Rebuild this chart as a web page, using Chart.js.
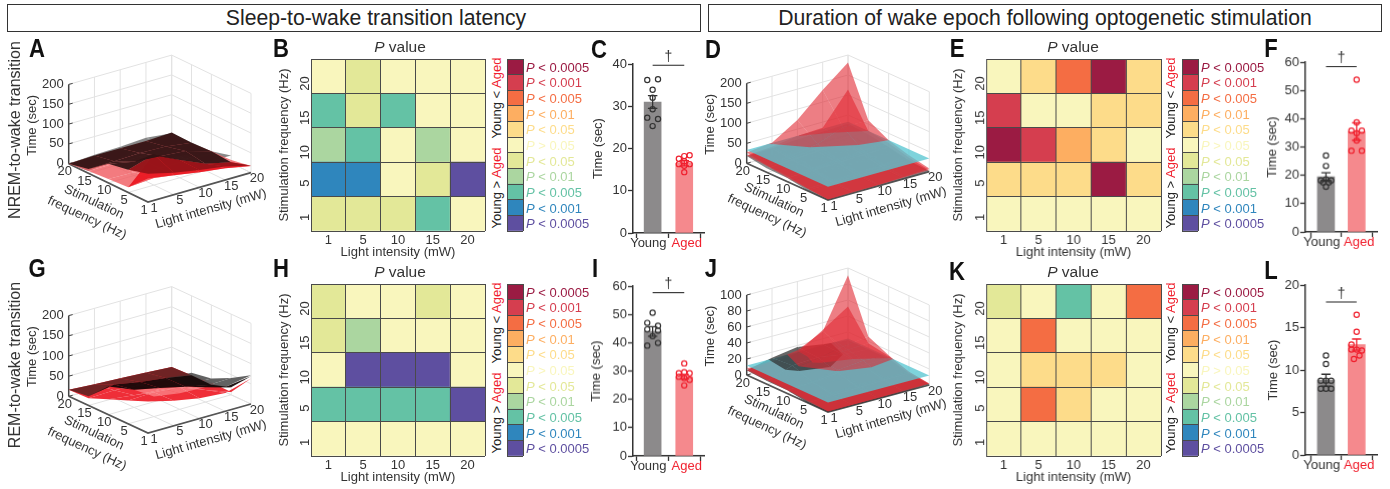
<!DOCTYPE html>
<html><head><meta charset="utf-8">
<script src="https://cdn.jsdelivr.net/npm/chart.js@4/dist/chart.umd.min.js"></script>
<style>
html,body{margin:0;padding:0;background:#fff;width:1390px;height:489px;overflow:hidden;font-family:"Liberation Sans",Arial,sans-serif;color:#333}
canvas{position:absolute;display:block}
.hdr{position:absolute;border:1px solid #333;box-sizing:border-box;text-align:center;font-size:21.2px;line-height:25px;color:#222;top:4px;height:28px}
.let{position:absolute;z-index:6;font-family:"Liberation Sans",sans-serif;font-weight:700;font-size:26px;color:#111;transform:translate(-50%,-50%) scaleX(.85);line-height:1}
.rot{position:absolute;z-index:5;transform:translate(-50%,-50%) rotate(-90deg);white-space:nowrap;font-size:13px;color:#222}
.rl{position:absolute;z-index:5;transform:translate(-50%,-50%) rotate(-90deg);white-space:nowrap;font-size:16px;color:#333}
.red{color:#f0202e}
.lg{position:absolute;z-index:5;font-size:13px;white-space:nowrap;transform:translateY(-50%)}
.pv{position:absolute;z-index:5;font-size:15.5px;transform:translate(-50%,-50%);white-space:nowrap}
</style></head><body>
<script>
// ---------- data ----------
const lightLabels = ['1','5','10','15','20'];
const freqLabels = ['1','5','10','15','20'];
const groupLabels = ['Young','Aged'];
const legendLabels = ['< 0.0005','< 0.001','< 0.005','< 0.01','< 0.05','> 0.05','< 0.05','< 0.01','< 0.005','< 0.001','< 0.0005'];
// significance codes, rows from 20 Hz down to 1 Hz; + : Young < Aged, - : Young > Aged
const pB = [[0,-1,0,0,0],[-3,-1,-3,0,0],[-2,-3,0,-2,0],[-4,-4,0,-1,-5],[-1,-1,-1,-3,0]];
const pE = [[0,1,3,5,1],[4,0,0,1,1],[5,4,2,1,0],[1,1,1,5,1],[0,0,0,0,0]];
const pH = [[-1,0,0,-1,0],[-1,-2,0,0,0],[0,-5,-5,-5,0],[-3,-3,-3,-3,-5],[0,0,0,0,0]];
const pK = [[-1,0,-3,0,3],[0,3,0,0,0],[0,1,1,1,0],[0,3,1,0,0],[0,0,0,0,0]];
const legendCodes = [5,4,3,2,1,0,-1,-2,-3,-4,-5];
const palette = {'5':'#9b1b43','4':'#d53e4f','3':'#f46d43','2':'#fdae61','1':'#fddc8a','0':'#f9f6bd','-1':'#e3e898','-2':'#abd6a0','-3':'#64c2a5','-4':'#2f86bd','-5':'#5e4fa0'};
// bars
const meanC=[31,16.5], semC=[1.5,0.6];
const youngC=[36.2,36.4,33.9,32,29.3,27.3,27,25.3], agedC=[18.4,18.2,17.6,17,16.3,16.3,15.9,14.4];
const meanF=[19.5,35.5], semF=[1.4,3.1];
const youngF=[27,23.3,18.2,18.2,18.6,17.5,17.5,16], agedF=[53.8,38.7,35.8,35.8,34.9,32.3,28.7,28.7];
const meanI=[44,28], semI=[1.7,0.8];
const youngI=[50.6,47,44.7,46,44.3,42.3,39,39.9], agedI=[32.7,29.2,29.6,29.2,28,27.5,26.9,24.9];
const meanL=[8.8,13], semL=[0.7,0.65];
const youngL=[11.7,10.7,8.75,8.75,8.75,7.8,7.8,7.8], agedL=[16.5,14.5,13,12.4,12.4,12.3,11.7,11.3];
const jitterYoung=[-0.17,0.17,0,0,0,-0.17,0.17,0], jitterAged=[0.17,0,-0.17,0,-0.17,0.17,0,0];
const jitterYoungB=[0,0,-0.17,0.17,0,-0.09,0.09,0], jitterAgedB=[0,0,-0.17,0.17,0,0,-0.17,0.17];
const jitterYoungI=[0,-0.17,-0.17,0.17,0.17,0,-0.17,0.17], jitterAgedI=[0,-0.17,0,0.17,-0.17,0,0.17,0];
const jitterYoungL=[0,0,-0.17,0,0.17,-0.17,0.17,0], jitterAgedL=[0,0,-0.17,-0.17,0,0.17,0.09,-0.09];
// 3-D surfaces, rows from 20 Hz down to 1 Hz, columns 1 to 20 mW, seconds; null: no patch
const aGrey=[[0,4,6,10,3],[6,14,25,19,4],[null,null,20,15,6],[null,null,null,20,19],[null,null,null,null,null]];
const aLight=[[0,1,1,1,3],[6,6,5,5,2],[10,8,6,5,6],[13,18,14,10,8],[59,49,38,30,17]];
const aBright=[[null,null,null,null,null],[null,null,null,null,null],[null,null,null,null,null],[13,77,45,17,2],[59,49,38,30,17]];
const aDeep=[[null,null,null,null,null],[null,null,null,null,null],[null,null,null,null,null],[57,77,45,17,2],[71,55,44,34,18]];
const aDark=[[0,2,2,2,5],[11,12,14,12,3],[48,35,30,25,6],[57,77,45,17,2],[null,null,null,null,null]];
const gGrey=[[null,null,null,null,null],[null,null,null,14,9],[null,null,null,20,18],[null,null,null,40,42],[null,null,null,60,71]];
const gBase=[[16,12,9,5,1],[18,20,15,10,3],[38,30,25,15,8],[58,60,55,30,7],[78,62,50,45,63]];
const gBrown=[[16,12,9,5,1],[23,34,22,14,3],[null,null,null,null,null],[null,null,null,null,null],[null,null,null,null,null]];
const gPink=[[null,null,null,null,null],[null,null,null,null,null],[null,44,30,15,null],[null,50,40,37,null],[null,null,null,null,null]];
const gDark=[[null,null,null,null,null],[23,34,22,14,3],[70,44,30,15,2],[null,null,null,37,19],[null,null,null,60,69]];
const dYoung=[[18,20,24,26,28],[10,14,18,22,24],[9,10,12,14,16],[1,2,3,4,5],[0,1,1,1,2]];
const dMid=[[20,24,33,36,114],[16,20,26,29,33],[10,12,16,20,26],[5,6,8,10,12],[1,2,2,3,4]];
const dTop=[[27,34,73,130,181],[18,26,36,60,60],[14,16,20,24,33],[6,8,10,13,18],[2,3,3,5,8]];
const dPlane=33;
const jYoung=[[6,13,18,13,10],[4,15,17,12,10],[4,6,9,10,10],[0,1,2,3,3],[0,0,0,0,1]];
const jMid=[[6,8,11,31,52],[5,8,13,16,17.5],[4,5,7,8,13],[2,3,4,5,5],[0.5,1,1,1,1.5]];
const jTop=[[8,9,14,29,91],[6,11,15,22,26],[5,7,12.5,16,14],[3,4,6,6,5],[1,1,1,2,2]];
const jPlane=12;
const zTicks200=[0,50,100,150,200], zTicks100=[0,20,40,60,80,100];

// ---------- helpers ----------
Chart.defaults.font.family='"Liberation Sans",Arial,sans-serif';
Chart.defaults.font.size=13;
Chart.defaults.color='#333';
const base=()=>({responsive:false,animation:false,events:[],plugins:{legend:{display:false},tooltip:{enabled:false}}});
function mkCanvas(l,t,w,h){const c=document.createElement('canvas');c.width=w;c.height=h;c.style.left=l+'px';c.style.top=t+'px';c.style.width=w+'px';c.style.height=h+'px';document.body.appendChild(c);return c;}
function html(cls,txt,x,y,extra){const d=document.createElement('div');d.className=cls;d.innerHTML=txt;d.style.left=x+'px';d.style.top=y+'px';if(extra)Object.assign(d.style,extra);document.body.appendChild(d);return d;}

function heatmap(matrix,area,ml){
  const [l,t,r,b]=area, mt=9, mb=29, mr=3;
  const c=mkCanvas(l-ml,t-mt,r-l+ml+mr,b-t+mt+mb);
  const rows=[...matrix].reverse();
  const datasets=rows.map(row=>({data:row.map(()=>1),backgroundColor:row.map(v=>palette[v]),borderWidth:0,stack:'s'}));
  const o=base();
  o.layout={padding:{top:mt,right:mr}};
  o.scales={
    x:{type:'category',labels:lightLabels,stacked:true,offset:true,
       grid:{offset:true,color:'#4a4a4a',lineWidth:1,z:1,drawTicks:false},border:{display:false},
       ticks:{padding:2,color:'#333',maxRotation:0},
       title:{display:true,text:'Light intensity (mW)',padding:0,color:'#333'},afterFit:s=>{s.height=mb;}},
    y:{type:'linear',stacked:true,min:0,max:5,position:'left',ticks:{display:false,stepSize:1},
       grid:{color:'#4a4a4a',lineWidth:1,z:1,drawTicks:false},border:{display:false},afterFit:s=>{s.width=0;}},
    yl:{type:'linear',min:0,max:5,position:'left',grid:{display:false},border:{display:false},
       afterBuildTicks:s=>{s.ticks=freqLabels.map((_,i)=>({value:i+0.5}));},
       ticks:{minRotation:90,maxRotation:90,padding:-2,color:'#333',callback:v=>freqLabels[Math.round(v-0.5)]},
       title:{display:true,text:'Stimulation frequency (Hz)',padding:{left:2,right:0,top:0,bottom:0},color:'#333'},afterFit:s=>{s.width=ml;}}
  };
  o.datasets={bar:{barPercentage:1,categoryPercentage:1}};
  new Chart(c,{type:'bar',data:{labels:lightLabels,datasets},options:o});
}
function colorbar(x0,x1,t,b){
  const c=mkCanvas(x0-1,t-1,x1-x0+2,b-t+2);
  const codes=[...legendCodes].reverse();
  const datasets=codes.map(v=>({data:[1],backgroundColor:palette[v],borderWidth:0,stack:'s'}));
  const o=base();
  o.layout={padding:1};
  o.scales={
    x:{type:'category',labels:[''],stacked:true,offset:true,grid:{offset:true,color:'#4a4a4a',z:1,drawTicks:false},border:{display:false},ticks:{display:false},afterFit:s=>{s.height=0;}},
    y:{type:'linear',stacked:true,min:0,max:11,ticks:{display:false,stepSize:1},grid:{color:'#4a4a4a',z:1,drawTicks:false},border:{display:false},afterFit:s=>{s.width=0;}}
  };
  o.datasets={bar:{barPercentage:1,categoryPercentage:1}};
  new Chart(c,{type:'bar',data:{labels:[''],datasets},options:o});
}
function errPath(x,m,s,d){return [{x:x-d,y:m+s},{x:x+d,y:m+s},{x,y:m+s},{x,y:m-s},{x:x-d,y:m-s},{x:x+d,y:m-s}];}
const daggerPlugin={id:'dagger',afterDraw(ch,_,opts){const g=ch.ctx,xs=ch.scales.x,ys=ch.scales.y;g.save();g.font='14px "Liberation Sans"';g.fillStyle='#333';g.textAlign='center';g.textBaseline='bottom';g.fillText('†',xs.getPixelForValue(1.5),ys.getPixelForValue(opts.y)-1);g.restore();}};
function bars(cfg){
  const {area,ml,yMax,step,xMin,xMax,mean,sem,young,aged,jy,ja,sig}=cfg;
  const [l,t,r,b]=area, mt=20, mb=24, mr=2;
  const c=mkCanvas(l-ml,t-mt,r-l+ml+mr,b-t+mt+mb);
  const R='#f0202e',K='#333';
  const dot=(vals,j,x,col)=>({type:'scatter',data:vals.map((v,i)=>({x:x+j[i],y:v})),showLine:false,pointRadius:2.6,pointBorderWidth:1.2,pointBorderColor:col,pointBackgroundColor:'rgba(0,0,0,0)'});
  const ln=(data,col,w)=>({type:'scatter',data,showLine:true,pointRadius:0,borderColor:col,borderWidth:w,fill:false,tension:0});
  const datasets=[
    ln([{x:1,y:sig},{x:2,y:sig}],'#222',1.2),
    dot(young,jy,1,K),dot(aged,ja,2,R),
    ln(errPath(1,mean[0],sem[0],0.15),K,1.3),ln(errPath(2,mean[1],sem[1],0.15),R,1.3),
    {type:'bar',data:[{x:1,y:mean[0]},{x:2,y:mean[1]}],backgroundColor:['#8c8a8b','#f5898d'],barThickness:17,borderWidth:0}
  ];
  const o=base();
  o.plugins.dagger={y:sig};
  o.layout={padding:{top:mt,right:mr}};
  o.scales={
    x:{type:'linear',min:xMin,max:xMax,offset:false,
       afterBuildTicks:s=>{s.ticks=[{value:1},{value:2}];},
       grid:{drawOnChartArea:false,color:'#333',tickLength:5,tickWidth:1.3},border:{color:'#333',width:1.5},
       ticks:{display:false},afterFit:s=>{s.height=5;}},
    xl:{type:'linear',position:'bottom',min:xMin,max:xMax,offset:false,
       afterBuildTicks:s=>{s.ticks=[{value:0.865},{value:2.08}];},
       grid:{display:false,drawTicks:false},border:{display:false},
       ticks:{padding:-2,maxRotation:0,autoSkip:false,color:ctx=>ctx.index===1?R:'#333',callback:(v,i)=>groupLabels[i]},
       afterFit:s=>{s.height=mb-5;}},
    y:{type:'linear',min:0,max:yMax,ticks:{stepSize:step,padding:1,color:'#333'},
       grid:{drawOnChartArea:false,color:'#333',tickLength:5,tickWidth:1.3},border:{color:'#333',width:1.5},
       title:{display:true,text:'Time (sec)',padding:0,color:'#333'},afterFit:s=>{s.width=ml;}}
  };
  new Chart(c,{type:'bar',data:{datasets},options:o,plugins:[daggerPlugin]});
}
// clip polygon of [i,j,z] at horizontal plane
function clipZ(poly,zc,keepAbove){
  const out=[];
  for(let k=0;k<poly.length;k++){
    const a=poly[k],b=poly[(k+1)%poly.length];
    const ia=keepAbove?a[2]>=zc:a[2]<=zc, ib=keepAbove?b[2]>=zc:b[2]<=zc;
    if(ia)out.push(a);
    if(ia!==ib){const u=(zc-a[2])/(b[2]-a[2]);out.push([a[0]+u*(b[0]-a[0]),a[1]+u*(b[1]-a[1]),zc]);}
  }
  return out;
}
function quads(m){
  const res=[];
  for(let r=0;r<4;r++)for(let i=0;i<4;i++){
    const A=m[r][i],B=m[r][i+1],C=m[r+1][i+1],D=m[r+1][i];
    if(A==null||B==null||C==null||D==null)continue;
    const j0=4-r,j1=3-r;
    res.push([[i,j0,A],[i+1,j0,B],[i+1,j1,C],[i,j1,D]]);
  }
  return res;
}
const textPlugin={id:'txt3d',afterDraw(ch,_,opts){
  const g=ch.ctx,xs=ch.scales.x,ys=ch.scales.y;
  for(const t of opts.items){
    g.save();g.translate(xs.getPixelForValue(t.x),ys.getPixelForValue(t.y));if(t.rot)g.rotate(t.rot*Math.PI/180);
    g.font=(t.size||13)+'px "Liberation Sans"';g.fillStyle='#333';g.textAlign=t.align||'center';g.textBaseline='middle';g.fillText(t.text,0,0);g.restore();
  }
}};
function surface3d(cfg){
  const {F,L,Fr,Z,zMax,zTicks,layers,plane}=cfg;
  const cl=F[0]-135,ct=F[1]-162,w=270,h=200;
  const c=mkCanvas(cl,ct,w,h);
  const P=(i,j,z)=>({x:F[0]-cl+i/4*L[0]+j/4*Fr[0],y:F[1]-ct+i/4*L[1]+j/4*Fr[1]-z/zMax*Z});
  const line=(pts,col,wd)=>({data:pts,showLine:true,pointRadius:0,borderColor:col,borderWidth:wd,fill:false,tension:0});
  const poly=(p,col)=>{const d=p.map(v=>P(v[0],v[1],v[2]));d.push(d[0]);return {data:d,showLine:true,pointRadius:0,borderWidth:0,borderColor:'rgba(0,0,0,0)',backgroundColor:col,fill:'shape',tension:0};};
  const ds=[];
  const gc='#e2e2e2';
  // walls and floor
  for(let k=0;k<=4;k++){
    ds.push(line([P(k,4,0),P(k,4,zMax)],gc,1));
    ds.push(line([P(4,k,0),P(4,k,zMax)],gc,1));
    ds.push(line([P(k,0,0),P(k,4,0)],gc,1));
    ds.push(line([P(0,k,0),P(4,k,0)],gc,1));
  }
  for(const z of zTicks){
    ds.push(line([P(0,4,z),P(4,4,z)],gc,1));
    ds.push(line([P(4,4,z),P(4,0,z)],gc,1));
  }
  // axes
  ds.push(line([P(0,4,0),P(0,0,0),P(4,0,0)],'#555',1.8));
  ds.push(line([P(0,4,0),P(0,4,zMax)],'#444',1.5));
  for(const z of zTicks){const a=P(0,4,z);ds.push(line([{x:a.x,y:a.y},{x:a.x+4,y:a.y-1}],'#444',1));}
  // surfaces, cut at the plane when there is one
  if(plane!=null){
    for(const s of layers)for(const q of quads(s.m)){const lo=clipZ(q,plane.z,false);if(lo.length>2)ds.push(poly(lo,s.c));}
    ds.push(poly([[0,0,plane.z],[4,0,plane.z],[4,4,plane.z],[0,4,plane.z]],plane.c));
    for(const s of layers)for(const q of quads(s.m)){const hi=clipZ(q,plane.z,true);if(hi.length>2)ds.push(poly(hi,s.c));}
  } else {
    for(const s of layers)for(const q of quads(s.m))ds.push(poly(q,s.c));
  }
  const items=[];
  for(const z of zTicks){const a=P(0,4,z);items.push({x:a.x-5,y:a.y,text:String(z),align:'right'});}
  freqLabels.forEach((t,k)=>{const a=P(0,k,0);items.push({x:a.x-4,y:a.y+8,text:t});});
  lightLabels.forEach((t,k)=>{const a=P(k,0,0);items.push({x:a.x+6,y:a.y+6,text:t});});
  const O=P(0,0,0),T=P(0,4,zMax);
  items.push({x:O.x+63,y:O.y+7,text:'Light intensity (mW)',rot:-16});
  items.push({x:O.x-54,y:O.y,text:'Stimulation',rot:25});
  items.push({x:O.x-61,y:O.y+16,text:'frequency (Hz)',rot:25});
  items.push({x:T.x-36,y:T.y+41,text:'Time (sec)',rot:-90});
  const o=base();
  o.layout={padding:0};
  o.plugins.txt3d={items};
  o.scales={x:{type:'linear',display:false,min:0,max:w},y:{type:'linear',display:false,min:0,max:h,reverse:true}};
  new Chart(c,{type:'scatter',data:{datasets:ds.reverse()},options:o,plugins:[textPlugin]});
}

// ---------- page text ----------
html('hdr','Sleep-to-wake transition latency',7,4,{width:'694px',paddingLeft:'44px'});
html('hdr','Duration of wake epoch following optogenetic stimulation',708,4,{width:'674px'});
[['A',37,48],['B',281,48],['C',599,49],['D',713,49],['E',957,48],['F',1271,48],['G',37,268],['H',281,268],['I',595,268],['J',711,268],['K',957,271],['L',1271,270]].forEach(a=>html('let',a[0],a[1],a[2]));
html('rl','NREM-to-wake transition',15,130);
html('rl','REM-to-wake transition',15,365);
[[400,47],[1073,47],[400,272],[1073,272]].forEach(p=>html('pv','<i>P</i> value',p[0],p[1]));
function side(x,off){
  html('rot','Young &lt; <span class="red">Aged</span>',x,98+off);
  html('rot','Young &gt; <span class="red">Aged</span>',x,188+off);
}
side(495.5,0);side(1170,0);side(495.5,225);side(1170,225);
function legend(x,t,b){
  const h=(b-t)/11;
  legendLabels.forEach((s,i)=>html('lg','<i>P</i> '+s,x,t+h*(i+0.5),{color:palette[legendCodes[i]]}));
}

// ---------- panels ----------
heatmap(pB,[311,59,485,231],34); colorbar(507,523,59,231); legend(526,59,231);
heatmap(pE,[986,59,1160.5,231],35); colorbar(1182,1198,59,231); legend(1201,59,231);
heatmap(pH,[311,284,485,456],34); colorbar(507,523,284,456); legend(526,284,456);
heatmap(pK,[986,284,1160.5,456],35); colorbar(1182,1198,284,456); legend(1201,284,456);

bars({area:[633,63.7,708,233],ml:42,yMax:40,step:10,xMin:0.379,xMax:2.65,mean:meanC,sem:semC,young:youngC,aged:agedC,jy:jitterYoung,ja:jitterAged,sig:39.7});
bars({area:[1305,62.3,1380.7,232],ml:40,yMax:60,step:10,xMin:0.328,xMax:2.69,mean:meanF,sem:semF,young:youngF,aged:agedF,jy:jitterYoungB,ja:jitterAgedB,sig:58.4});
bars({area:[633,286.3,708,456],ml:44,yMax:60,step:10,xMin:0.379,xMax:2.65,mean:meanI,sem:semI,young:youngI,aged:agedI,jy:jitterYoungI,ja:jitterAgedI,sig:57.7});
bars({area:[1305,285.3,1380.7,455.3],ml:39,yMax:20,step:5,xMin:0.328,xMax:2.69,mean:meanL,sem:semL,young:youngL,aged:agedL,jy:jitterYoungL,ja:jitterAgedL,sig:18});

const RED1='rgba(225,40,50,0.6)';
const CYAN='rgba(90,198,210,0.78)';
surface3d({F:[147.7,201.7],L:[103,-29.3],Fr:[-79.3,-38.3],Z:79.3,zMax:200,zTicks:zTicks200,layers:[
  {m:aGrey,c:'rgba(115,115,115,0.85)'},{m:aLight,c:'rgba(240,90,95,0.8)'},{m:aBright,c:'rgba(235,25,35,0.95)'},{m:aDeep,c:'rgba(150,20,25,0.97)'},{m:aDark,c:'rgba(50,20,20,0.95)'}]});
surface3d({F:[147.7,433.3],L:[103,-29],Fr:[-79.3,-36.7],Z:80.7,zMax:200,zTicks:zTicks200,layers:[
  {m:gBase,c:'rgba(238,35,45,0.95)'},{m:gGrey,c:'rgba(90,90,90,0.95)'},{m:gBrown,c:'rgba(100,35,35,0.92)'},{m:gPink,c:'rgba(255,170,170,0.55)'},{m:gDark,c:'rgba(22,8,8,0.95)'}]});
surface3d({F:[828,200],L:[101.3,-28.3],Fr:[-81.3,-36.7],Z:80,zMax:200,zTicks:zTicks200,plane:{z:dPlane,c:CYAN},layers:[
  {m:dYoung,c:'rgba(60,60,60,0.6)'},{m:dMid,c:RED1},{m:dTop,c:RED1}]});
surface3d({F:[828,412],L:[101.3,-27],Fr:[-81.3,-37],Z:80,zMax:100,zTicks:zTicks100,plane:{z:jPlane,c:CYAN},layers:[
  {m:jYoung,c:'rgba(45,45,45,0.72)'},{m:jMid,c:RED1},{m:jTop,c:RED1}]});
</script>
</body></html>
